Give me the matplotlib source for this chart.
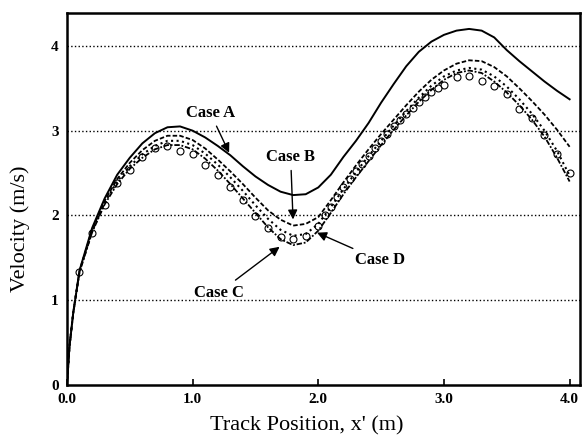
import matplotlib
matplotlib.use("Agg")
import matplotlib.pyplot as plt

# track position (m)
x = [0.0, 0.02, 0.05, 0.1, 0.2, 0.3, 0.4, 0.5, 0.6, 0.7, 0.8, 0.9, 1.0,
     1.1, 1.2, 1.3, 1.4, 1.5, 1.6, 1.7, 1.8, 1.9, 2.0, 2.1, 2.2, 2.3, 2.4,
     2.5, 2.6, 2.7, 2.8, 2.9, 3.0, 3.1, 3.2, 3.3, 3.4, 3.5, 3.6, 3.7, 3.8,
     3.9, 4.0]

case_a = [0.0, 0.45, 0.85, 1.35, 1.85, 2.2, 2.48, 2.68, 2.85, 2.97, 3.04, 3.05, 3.0,
          2.92, 2.82, 2.71, 2.58, 2.46, 2.36, 2.28, 2.24, 2.25, 2.33, 2.48, 2.69, 2.88, 3.09,
          3.33, 3.55, 3.76, 3.93, 4.05, 4.13, 4.18, 4.2, 4.18, 4.1, 3.95, 3.82, 3.7, 3.58,
          3.47, 3.37]
case_b = [0.0, 0.45, 0.85, 1.34, 1.83, 2.17, 2.43, 2.62, 2.77, 2.88, 2.94, 2.94, 2.89,
          2.79, 2.66, 2.52, 2.37, 2.21, 2.06, 1.95, 1.88, 1.9, 1.98, 2.18, 2.39, 2.59, 2.78,
          2.96, 3.13, 3.3, 3.46, 3.6, 3.71, 3.79, 3.83, 3.82, 3.75, 3.64, 3.5, 3.35, 3.19,
          3.01, 2.81]
case_c = [0.0, 0.45, 0.85, 1.33, 1.8, 2.13, 2.37, 2.55, 2.68, 2.78, 2.83, 2.83, 2.78,
          2.67, 2.53, 2.37, 2.2, 2.03, 1.86, 1.72, 1.65, 1.68, 1.82, 2.03, 2.25, 2.45, 2.64,
          2.83, 3.01, 3.18, 3.34, 3.48, 3.6, 3.68, 3.71, 3.68, 3.58, 3.45, 3.3, 3.13, 2.93,
          2.68, 2.4]
case_d = [0.0, 0.45, 0.85, 1.34, 1.81, 2.15, 2.4, 2.58, 2.72, 2.82, 2.88, 2.88, 2.83,
          2.73, 2.6, 2.45, 2.29, 2.12, 1.96, 1.83, 1.76, 1.78, 1.9, 2.1, 2.31, 2.51, 2.7,
          2.88, 3.06, 3.23, 3.39, 3.53, 3.64, 3.71, 3.74, 3.72, 3.64, 3.52, 3.37, 3.2, 3.0,
          2.76, 2.47]

# measured points
x_exp = [0.1, 0.2, 0.3, 0.4, 0.5, 0.6, 0.7, 0.8, 0.9, 1.0, 1.1, 1.2, 1.3, 1.4,
         1.5, 1.6, 1.7, 1.8, 1.9, 2.0, 2.05, 2.1, 2.15, 2.2, 2.25, 2.3, 2.35,
         2.4, 2.45, 2.5, 2.55, 2.6, 2.65, 2.7, 2.75, 2.8, 2.85, 2.9, 2.95, 3.0,
         3.1, 3.2, 3.3, 3.4, 3.5, 3.6, 3.7, 3.8, 3.9, 4.0]
v_exp = [1.33, 1.79, 2.12, 2.38, 2.54, 2.69, 2.79, 2.82, 2.76, 2.73, 2.6, 2.48, 2.34, 2.18,
         1.99, 1.85, 1.75, 1.72, 1.76, 1.88, 2.0, 2.1, 2.22, 2.33, 2.43, 2.52, 2.61,
         2.7, 2.79, 2.88, 2.96, 3.05, 3.12, 3.2, 3.27, 3.34, 3.4, 3.46, 3.5, 3.54,
         3.63, 3.64, 3.59, 3.53, 3.43, 3.26, 3.15, 2.95, 2.73, 2.5]

plt.rcParams['font.family'] = 'Liberation Serif'

fig = plt.figure(figsize=(5.82, 4.42), dpi=100)
ax = fig.add_axes([0.115, 0.129, 0.881, 0.842])

ax.plot(x, case_a, 'k-', linewidth=1.4)
ax.plot(x, case_b, 'k--', linewidth=1.3, dashes=(2.5, 1.2))
ax.plot(x, case_c, 'k-.', linewidth=1.3, dashes=(3, 1, 1, 1))
ax.plot(x, case_d, 'k:', linewidth=1.5)
ax.plot(x_exp, v_exp, 'o', markersize=5, markerfacecolor='none',
        markeredgecolor='k', markeredgewidth=0.8)

for yv in [1, 2, 3, 4]:
    ax.axhline(yv, color='k', linestyle=':', linewidth=1.0, zorder=0)

arrow = dict(arrowstyle='-|>', color='k', lw=1.0, mutation_scale=14)
lbl = dict(ha='center', va='center', fontsize=12, fontweight='bold')
ax.annotate('Case A', xy=(1.30, 2.71), xytext=(1.14, 3.21), arrowprops=arrow, **lbl)
ax.annotate('Case B', xy=(1.80, 1.92), xytext=(1.78, 2.69), arrowprops=arrow, **lbl)
ax.annotate('Case C', xy=(1.71, 1.65), xytext=(1.21, 1.09), arrowprops=arrow, **lbl)
ax.annotate('Case D', xy=(1.97, 1.81), xytext=(2.49, 1.47), arrowprops=arrow, **lbl)

ax.set_xlim(0, 4.08)
ax.set_ylim(0, 4.39)
ax.set_xticks([0, 1, 2, 3, 4])
ax.set_xticklabels(['0.0', '1.0', '2.0', '3.0', '4.0'])
ax.set_yticks([0, 1, 2, 3, 4])
ax.tick_params(axis='x', direction='in', length=4, width=1.2, labelsize=11, pad=6)
ax.tick_params(axis='y', direction='in', length=0, labelsize=11, pad=6)
for lab in ax.get_xticklabels() + ax.get_yticklabels():
    lab.set_fontweight('bold')
for sp in ax.spines.values():
    sp.set_linewidth(1.8)

ax.set_xlabel("Track Position, x' (m)", fontsize=16)
ax.set_ylabel("Velocity (m/s)", fontsize=16)
ax.xaxis.set_label_coords(0.468, -0.083)
ax.yaxis.set_label_coords(-0.072, 0.42)

fig.savefig('out.png', dpi=100)
